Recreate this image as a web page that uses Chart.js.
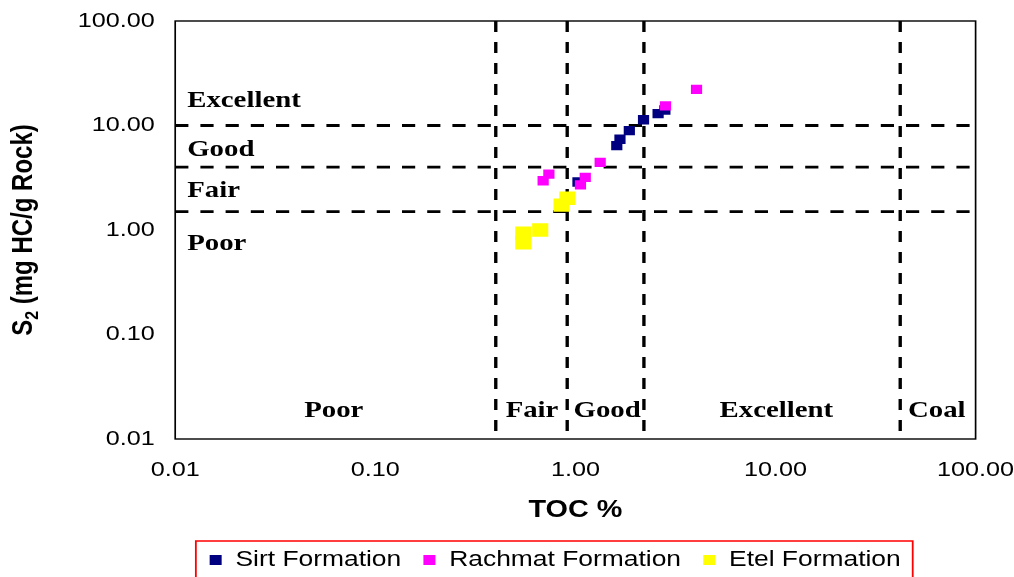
<!DOCTYPE html>
<html>
<head>
<meta charset="utf-8">
<script src="https://cdn.jsdelivr.net/npm/chart.js@4.4.1/dist/chart.umd.min.js"></script>
<style>
  html, body { margin: 0; padding: 0; background: #fff; overflow: hidden; }
  canvas { display: block; }
</style>
</head>
<body>
<canvas id="chart" width="845" height="577" style="width:1014px;height:577px"></canvas>
<script>
// TOC (wt %) and S2 (mg HC/g rock) for each formation
const sirtToc = [1.03, 1.61, 1.67, 1.86, 2.19, 2.59, 2.80];
const sirtS2  = [2.88, 6.41, 7.38, 8.92, 11.36, 12.97, 14.07];

const rachmatToc = [4.03, 2.82, 1.33, 0.737, 0.69, 1.12, 1.06];
const rachmatS2  = [22.2, 15.4, 4.44, 3.43, 2.96, 3.19, 2.70];

const etelToc = [0.912, 0.853, 0.667, 0.549, 0.549];
const etelS2  = [2.01, 1.73, 1.00, 0.93, 0.756];

// Source-rock quality class limits
const tocLimits = [0.4, 0.91, 2.2, 42];   // Poor | Fair | Good | Excellent | Coal
const s2Limits  = [1.5, 4, 10];           // Poor | Fair | Good | Excellent

// Class names and where they sit (in data units)
const tocClassNames = ['Poor', 'Fair', 'Good', 'Excellent', 'Coal'];
const tocClassAt    = [0.062, 0.607, 1.44, 10.1, 64];
const tocClassS2    = 0.0185;
const s2ClassNames  = ['Excellent', 'Good', 'Fair', 'Poor'];
const s2ClassAt     = [17.2, 5.84, 2.36, 0.737];

// Axis ticks
const tocTicks = [0.01, 0.1, 1, 10, 100];
const s2Ticks  = [0.01, 0.1, 1, 10, 100];

const SANS  = "'Liberation Sans', Arial, sans-serif";
const SERIF = "'Liberation Serif', 'Times New Roman', serif";
const NAVY = '#000080', MAGENTA = '#ff00ff', YELLOW = '#ffff00';

// Drawing space is 845 units wide, stretched 1.2x horizontally onto the 1014 px canvas
const LOGICAL_W = 845, STRETCH = 1.2;

const pts = (xs, ys) => xs.map((x, i) => ({ x, y: ys[i] }));

const limitLine = (data) => ({
  data, showLine: true, pointRadius: 0, pointHoverRadius: 0,
  borderColor: '#000', borderWidth: 2.8, borderDash: [11, 10],
  fill: false, order: 10
});

const datasets = [
  { label: 'Sirt Formation', data: pts(sirtToc, sirtS2), pointStyle: 'rect',
    pointRadius: 6.6, backgroundColor: NAVY, borderColor: NAVY, pointBorderWidth: 0, borderWidth: 0, order: 3 },
  { label: 'Rachmat Formation', data: pts(rachmatToc, rachmatS2), pointStyle: 'rect',
    pointRadius: 6.6, backgroundColor: MAGENTA, borderColor: MAGENTA, pointBorderWidth: 0, borderWidth: 0, order: 2 },
  { label: 'Etel Formation', data: pts(etelToc, etelS2), pointStyle: 'rect',
    pointRadius: 9.5, backgroundColor: YELLOW, borderColor: YELLOW, pointBorderWidth: 0, borderWidth: 0, order: 1 },
  ...tocLimits.map(v => limitLine([{ x: v, y: 100 }, { x: v, y: 0.01 }])),
  ...s2Limits.map(v => limitLine([{ x: 0.01, y: v }, { x: 100, y: v }]))
];

const whiteBackground = {
  id: 'whiteBackground',
  beforeDraw(chart) {
    const { ctx } = chart;
    ctx.save();
    ctx.fillStyle = '#fff';
    ctx.fillRect(0, 0, chart.width, chart.height);
    ctx.restore();
  }
};

const frameAndLabels = {
  id: 'frameAndLabels',
  afterDraw(chart) {
    const { ctx, chartArea: a, scales: { x, y } } = chart;
    ctx.save();
    // plot frame
    ctx.strokeStyle = '#000';
    ctx.lineWidth = 1.4;
    ctx.strokeRect(a.left, a.top, a.right - a.left, a.bottom - a.top);

    // class names
    ctx.fillStyle = '#000';
    ctx.font = `bold 24px ${SERIF}`;
    ctx.textBaseline = 'middle';
    ctx.textAlign = 'left';
    s2ClassNames.forEach((t, i) => ctx.fillText(t, a.left + 10, y.getPixelForValue(s2ClassAt[i])));
    ctx.textAlign = 'center';
    tocClassNames.forEach((t, i) => ctx.fillText(t, x.getPixelForValue(tocClassAt[i]), y.getPixelForValue(tocClassS2)));

    // y-axis title with subscript
    const cy = (a.top + a.bottom) / 2;
    ctx.translate(27, cy);
    ctx.rotate(-Math.PI / 2);
    ctx.textAlign = 'left';
    ctx.textBaseline = 'alphabetic';
    const big = `bold 24px ${SANS}`, small = `bold 16px ${SANS}`;
    ctx.font = big;
    const wS = ctx.measureText('S').width;
    const rest = ' (mg HC/g Rock)';
    const wRest = ctx.measureText(rest).width;
    ctx.font = small;
    const w2 = ctx.measureText('2').width;
    let tx = -(wS + w2 + wRest) / 2;
    ctx.font = big;  ctx.fillText('S', tx, 0); tx += wS;
    ctx.font = small; ctx.fillText('2', tx, 5); tx += w2;
    ctx.font = big;  ctx.fillText(rest, tx, 0);
    ctx.restore();

    // legend frame
    const hb = chart.legend && chart.legend.legendHitBoxes;
    if (hb && hb.length) {
      const first = hb[0], last = hb[hb.length - 1];
      const cyL = first.top + first.height / 2;
      const l = first.left - 11, r = last.left + last.width + 10;
      ctx.save();
      ctx.strokeStyle = '#ff0000';
      ctx.lineWidth = 1.5;
      ctx.strokeRect(l, cyL - 19, r - l, 60);
      ctx.restore();
    }
  }
};

const fmt = v => Number(v).toFixed(2);

const config = {
  type: 'scatter',
  data: { datasets },
  options: {
    responsive: false,
    animation: false,
    events: [],
    // negative right padding centres the legend row under the plot the way it sits in the figure
    layout: { padding: { left: 0, right: -79.8, top: 21, bottom: -4 } },
    scales: {
      x: {
        type: 'logarithmic', position: 'bottom', min: 0.01, max: 100,
        grid: { display: false, drawTicks: false },
        border: { display: false },
        afterBuildTicks: s => { s.ticks = tocTicks.map(v => ({ value: v })); },
        afterFit: s => { s.height = 92; s.paddingLeft = 0; s.paddingRight = 0; },
        ticks: { callback: fmt, color: '#000', padding: 19, maxRotation: 0, autoSkip: false,
                 font: { family: SANS, size: 21 } },
        title: { display: true, text: 'TOC %', color: '#000', padding: { top: 0, bottom: 6 },
                 font: { family: SANS, size: 24, weight: 'bold' } }
      },
      y: {
        type: 'logarithmic', position: 'left', min: 0.01, max: 100,
        grid: { display: false, drawTicks: false },
        border: { display: false },
        afterBuildTicks: s => { s.ticks = s2Ticks.map(v => ({ value: v })); },
        afterFit: s => { s.width = 146; s.paddingTop = 0; s.paddingBottom = 0; },
        ticks: { callback: fmt, color: '#000', padding: 17, autoSkip: false,
                 font: { family: SANS, size: 21 } }
      },
      // blank margin on the right of the plot
      margin: {
        type: 'linear', position: 'right', display: true,
        grid: { display: false, drawTicks: false },
        border: { display: false },
        ticks: { display: false },
        afterFit: s => { s.width = 111.8; s.paddingTop = 0; s.paddingBottom = 0; }
      }
    },
    plugins: {
      tooltip: { enabled: false },
      legend: {
        position: 'bottom', align: 'center',
        labels: {
          color: '#000', usePointStyle: true, boxWidth: 11, boxHeight: 10, padding: 18,
          font: { family: SANS, size: 22 },
          filter: item => item.datasetIndex < 3,
          sort: (p, q) => p.datasetIndex - q.datasetIndex
        }
      }
    }
  },
  plugins: [whiteBackground, frameAndLabels]
};

const canvas = document.getElementById('chart');
const chart = new Chart(canvas, config);
canvas.width = Math.round(LOGICAL_W * STRETCH);
chart.ctx.setTransform(STRETCH, 0, 0, 1, 0, 0);
chart.draw();
</script>
</body>
</html>
